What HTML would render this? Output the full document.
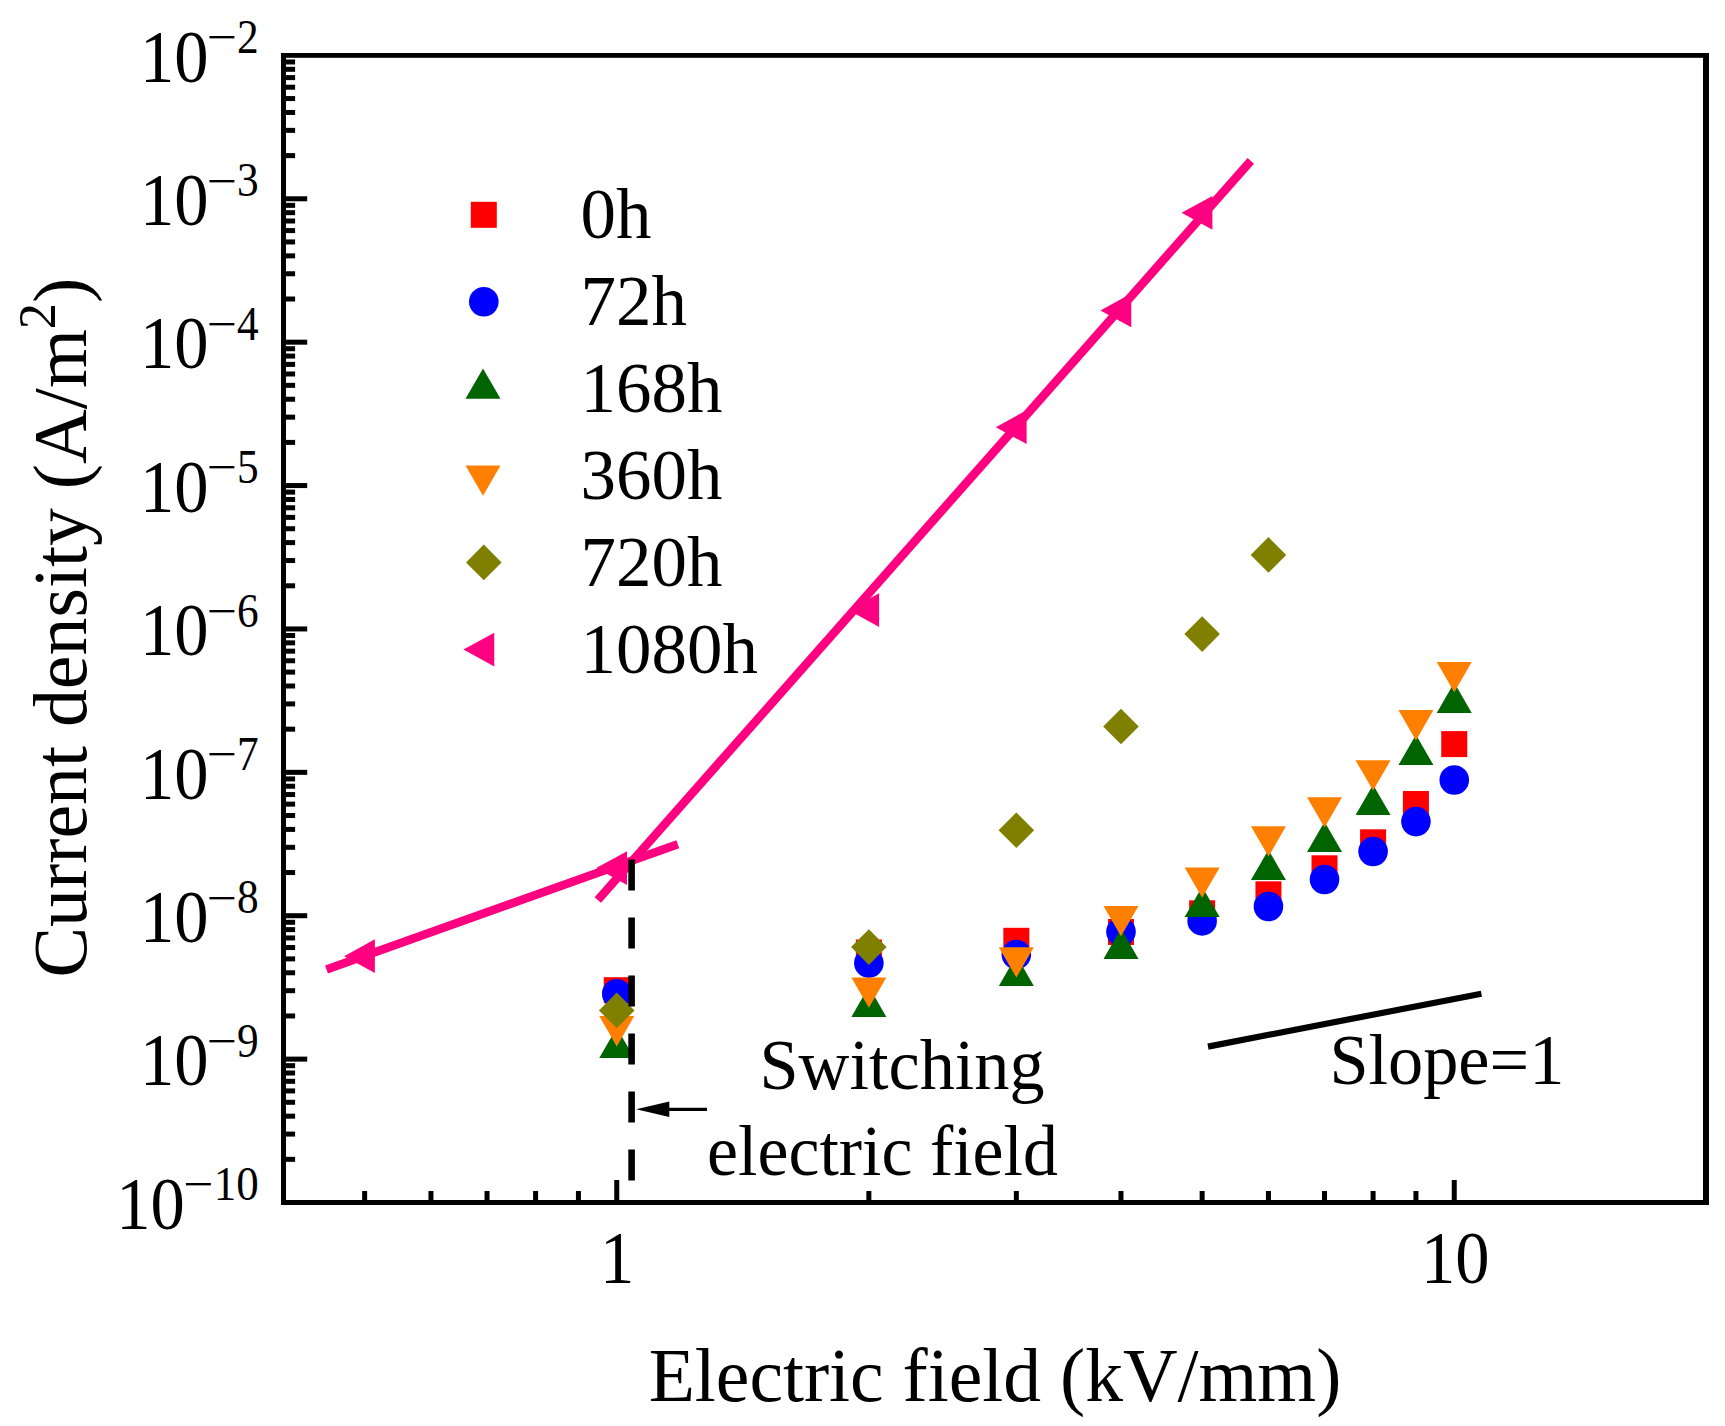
<!DOCTYPE html>
<html lang="en"><head><meta charset="utf-8">
<title>Current density vs electric field</title>
<style>
html,body{margin:0;padding:0;background:#fff;}
body{width:1725px;height:1426px;overflow:hidden;}
svg{display:block;}
text{font-family:"Liberation Serif", serif;fill:#000;}
</style></head><body>
<svg width="1725" height="1426" viewBox="0 0 1725 1426">
<rect x="0" y="0" width="1725" height="1426" fill="#fff"/>
<g fill="#000">
<rect x="285.00" y="1156.84" width="10.10" height="5.00"/>
<rect x="285.00" y="1131.59" width="10.10" height="5.00"/>
<rect x="285.00" y="1113.67" width="10.10" height="5.00"/>
<rect x="285.00" y="1099.78" width="10.10" height="5.00"/>
<rect x="285.00" y="1088.42" width="10.10" height="5.00"/>
<rect x="285.00" y="1078.82" width="10.10" height="5.00"/>
<rect x="285.00" y="1070.51" width="10.10" height="5.00"/>
<rect x="285.00" y="1063.17" width="10.10" height="5.00"/>
<rect x="285.00" y="1056.61" width="22.20" height="5.00"/>
<rect x="285.00" y="1013.45" width="10.10" height="5.00"/>
<rect x="285.00" y="988.20" width="10.10" height="5.00"/>
<rect x="285.00" y="970.28" width="10.10" height="5.00"/>
<rect x="285.00" y="956.39" width="10.10" height="5.00"/>
<rect x="285.00" y="945.04" width="10.10" height="5.00"/>
<rect x="285.00" y="935.44" width="10.10" height="5.00"/>
<rect x="285.00" y="927.12" width="10.10" height="5.00"/>
<rect x="285.00" y="919.79" width="10.10" height="5.00"/>
<rect x="285.00" y="913.22" width="22.20" height="5.00"/>
<rect x="285.00" y="870.06" width="10.10" height="5.00"/>
<rect x="285.00" y="844.81" width="10.10" height="5.00"/>
<rect x="285.00" y="826.90" width="10.10" height="5.00"/>
<rect x="285.00" y="813.00" width="10.10" height="5.00"/>
<rect x="285.00" y="801.65" width="10.10" height="5.00"/>
<rect x="285.00" y="792.05" width="10.10" height="5.00"/>
<rect x="285.00" y="783.73" width="10.10" height="5.00"/>
<rect x="285.00" y="776.40" width="10.10" height="5.00"/>
<rect x="285.00" y="769.84" width="22.20" height="5.00"/>
<rect x="285.00" y="726.67" width="10.10" height="5.00"/>
<rect x="285.00" y="701.42" width="10.10" height="5.00"/>
<rect x="285.00" y="683.51" width="10.10" height="5.00"/>
<rect x="285.00" y="669.61" width="10.10" height="5.00"/>
<rect x="285.00" y="658.26" width="10.10" height="5.00"/>
<rect x="285.00" y="648.66" width="10.10" height="5.00"/>
<rect x="285.00" y="640.35" width="10.10" height="5.00"/>
<rect x="285.00" y="633.01" width="10.10" height="5.00"/>
<rect x="285.00" y="626.45" width="22.20" height="5.00"/>
<rect x="285.00" y="583.29" width="10.10" height="5.00"/>
<rect x="285.00" y="558.04" width="10.10" height="5.00"/>
<rect x="285.00" y="540.12" width="10.10" height="5.00"/>
<rect x="285.00" y="526.23" width="10.10" height="5.00"/>
<rect x="285.00" y="514.87" width="10.10" height="5.00"/>
<rect x="285.00" y="505.27" width="10.10" height="5.00"/>
<rect x="285.00" y="496.96" width="10.10" height="5.00"/>
<rect x="285.00" y="489.62" width="10.10" height="5.00"/>
<rect x="285.00" y="483.06" width="22.20" height="5.00"/>
<rect x="285.00" y="439.90" width="10.10" height="5.00"/>
<rect x="285.00" y="414.65" width="10.10" height="5.00"/>
<rect x="285.00" y="396.73" width="10.10" height="5.00"/>
<rect x="285.00" y="382.84" width="10.10" height="5.00"/>
<rect x="285.00" y="371.49" width="10.10" height="5.00"/>
<rect x="285.00" y="361.89" width="10.10" height="5.00"/>
<rect x="285.00" y="353.57" width="10.10" height="5.00"/>
<rect x="285.00" y="346.24" width="10.10" height="5.00"/>
<rect x="285.00" y="339.67" width="22.20" height="5.00"/>
<rect x="285.00" y="296.51" width="10.10" height="5.00"/>
<rect x="285.00" y="271.26" width="10.10" height="5.00"/>
<rect x="285.00" y="253.35" width="10.10" height="5.00"/>
<rect x="285.00" y="239.45" width="10.10" height="5.00"/>
<rect x="285.00" y="228.10" width="10.10" height="5.00"/>
<rect x="285.00" y="218.50" width="10.10" height="5.00"/>
<rect x="285.00" y="210.18" width="10.10" height="5.00"/>
<rect x="285.00" y="202.85" width="10.10" height="5.00"/>
<rect x="285.00" y="196.29" width="22.20" height="5.00"/>
<rect x="285.00" y="153.12" width="10.10" height="5.00"/>
<rect x="285.00" y="127.87" width="10.10" height="5.00"/>
<rect x="285.00" y="109.96" width="10.10" height="5.00"/>
<rect x="285.00" y="96.06" width="10.10" height="5.00"/>
<rect x="285.00" y="84.71" width="10.10" height="5.00"/>
<rect x="285.00" y="75.11" width="10.10" height="5.00"/>
<rect x="285.00" y="66.80" width="10.10" height="5.00"/>
<rect x="285.00" y="59.46" width="10.10" height="5.00"/>
<rect x="614.25" y="1180.00" width="5.00" height="21.00"/>
<rect x="1451.75" y="1180.00" width="5.00" height="21.00"/>
<rect x="362.14" y="1191.00" width="5.00" height="10.00"/>
<rect x="428.45" y="1191.00" width="5.00" height="10.00"/>
<rect x="484.52" y="1191.00" width="5.00" height="10.00"/>
<rect x="533.09" y="1191.00" width="5.00" height="10.00"/>
<rect x="575.93" y="1191.00" width="5.00" height="10.00"/>
<rect x="866.36" y="1191.00" width="5.00" height="10.00"/>
<rect x="1013.84" y="1191.00" width="5.00" height="10.00"/>
<rect x="1118.48" y="1191.00" width="5.00" height="10.00"/>
<rect x="1199.64" y="1191.00" width="5.00" height="10.00"/>
<rect x="1265.95" y="1191.00" width="5.00" height="10.00"/>
<rect x="1322.02" y="1191.00" width="5.00" height="10.00"/>
<rect x="1370.59" y="1191.00" width="5.00" height="10.00"/>
<rect x="1413.43" y="1191.00" width="5.00" height="10.00"/>
<rect x="281.00" y="53.00" width="5.00" height="1152.00"/>
<rect x="1703.00" y="53.00" width="6.00" height="1152.00"/>
<rect x="281.00" y="53.00" width="1428.00" height="4.80"/>
<rect x="281.00" y="1200.00" width="1428.00" height="5.00"/>
</g>
<text transform="translate(184.80 1228.80) scale(0.9350 1.0000)" font-size="73.3" text-anchor="end">10</text>
<text transform="translate(183.40 1200.40) scale(1.1260 1.0000)" font-size="47.6" text-anchor="start">−</text>
<text transform="translate(258.70 1200.10) scale(0.9464 1.0000)" font-size="47.6" text-anchor="end">10</text>
<text transform="translate(208.50 1085.41) scale(0.9350 1.0000)" font-size="73.3" text-anchor="end">10</text>
<text transform="translate(207.10 1057.01) scale(1.1260 1.0000)" font-size="47.6" text-anchor="start">−</text>
<text transform="translate(258.70 1056.71) scale(0.9100 1.0000)" font-size="47.6" text-anchor="end">9</text>
<text transform="translate(208.50 942.02) scale(0.9350 1.0000)" font-size="73.3" text-anchor="end">10</text>
<text transform="translate(207.10 913.62) scale(1.1260 1.0000)" font-size="47.6" text-anchor="start">−</text>
<text transform="translate(258.70 913.32) scale(0.9100 1.0000)" font-size="47.6" text-anchor="end">8</text>
<text transform="translate(208.50 798.64) scale(0.9350 1.0000)" font-size="73.3" text-anchor="end">10</text>
<text transform="translate(207.10 770.24) scale(1.1260 1.0000)" font-size="47.6" text-anchor="start">−</text>
<text transform="translate(258.70 769.94) scale(0.9100 1.0000)" font-size="47.6" text-anchor="end">7</text>
<text transform="translate(208.50 655.25) scale(0.9350 1.0000)" font-size="73.3" text-anchor="end">10</text>
<text transform="translate(207.10 626.85) scale(1.1260 1.0000)" font-size="47.6" text-anchor="start">−</text>
<text transform="translate(258.70 626.55) scale(0.9100 1.0000)" font-size="47.6" text-anchor="end">6</text>
<text transform="translate(208.50 511.86) scale(0.9350 1.0000)" font-size="73.3" text-anchor="end">10</text>
<text transform="translate(207.10 483.46) scale(1.1260 1.0000)" font-size="47.6" text-anchor="start">−</text>
<text transform="translate(258.70 483.16) scale(0.9100 1.0000)" font-size="47.6" text-anchor="end">5</text>
<text transform="translate(208.50 368.47) scale(0.9350 1.0000)" font-size="73.3" text-anchor="end">10</text>
<text transform="translate(207.10 340.07) scale(1.1260 1.0000)" font-size="47.6" text-anchor="start">−</text>
<text transform="translate(258.70 339.77) scale(0.9100 1.0000)" font-size="47.6" text-anchor="end">4</text>
<text transform="translate(208.50 225.09) scale(0.9350 1.0000)" font-size="73.3" text-anchor="end">10</text>
<text transform="translate(207.10 196.69) scale(1.1260 1.0000)" font-size="47.6" text-anchor="start">−</text>
<text transform="translate(258.70 196.39) scale(0.9100 1.0000)" font-size="47.6" text-anchor="end">3</text>
<text transform="translate(208.50 81.70) scale(0.9350 1.0000)" font-size="73.3" text-anchor="end">10</text>
<text transform="translate(207.10 53.30) scale(1.1260 1.0000)" font-size="47.6" text-anchor="start">−</text>
<text transform="translate(258.70 53.00) scale(0.9100 1.0000)" font-size="47.6" text-anchor="end">2</text>
<text transform="translate(617.05 1282.60) scale(0.9350 1.0000)" font-size="73.3" text-anchor="middle">1</text>
<text transform="translate(1455.15 1282.60) scale(0.9350 1.0000)" font-size="73.3" text-anchor="middle">10</text>
<text x="995.0" y="1401.3" font-size="75.6" text-anchor="middle">Electric field (kV/mm)</text>
<text transform="translate(86.0,627.6) rotate(-90)" font-size="75.8" text-anchor="middle">Current density (A/m<tspan font-size="52.5" dy="-31.5">2</tspan><tspan dy="31.5">)</tspan></text>
<g>
<rect x="603.75" y="977.20" width="26.00" height="26.00" fill="#ff0000"/>
<rect x="855.86" y="939.50" width="26.00" height="26.00" fill="#ff0000"/>
<rect x="1003.34" y="927.80" width="26.00" height="26.00" fill="#ff0000"/>
<rect x="1107.98" y="919.00" width="26.00" height="26.00" fill="#ff0000"/>
<rect x="1189.14" y="900.30" width="26.00" height="26.00" fill="#ff0000"/>
<rect x="1255.45" y="881.30" width="26.00" height="26.00" fill="#ff0000"/>
<rect x="1311.52" y="855.30" width="26.00" height="26.00" fill="#ff0000"/>
<rect x="1360.09" y="829.30" width="26.00" height="26.00" fill="#ff0000"/>
<rect x="1402.93" y="791.00" width="26.00" height="26.00" fill="#ff0000"/>
<rect x="1441.25" y="731.10" width="26.00" height="26.00" fill="#ff0000"/>
<circle cx="616.75" cy="993.80" r="14.80" fill="#0000ff"/>
<circle cx="868.86" cy="963.10" r="14.80" fill="#0000ff"/>
<circle cx="1016.34" cy="954.60" r="14.80" fill="#0000ff"/>
<circle cx="1120.98" cy="931.80" r="14.80" fill="#0000ff"/>
<circle cx="1202.14" cy="920.90" r="14.80" fill="#0000ff"/>
<circle cx="1268.45" cy="906.50" r="14.80" fill="#0000ff"/>
<circle cx="1324.52" cy="879.50" r="14.80" fill="#0000ff"/>
<circle cx="1373.09" cy="851.50" r="14.80" fill="#0000ff"/>
<circle cx="1415.93" cy="821.60" r="14.80" fill="#0000ff"/>
<circle cx="1454.25" cy="780.00" r="14.80" fill="#0000ff"/>
<polygon points="616.75,1027.79 634.25,1058.10 599.25,1058.10" fill="#006400"/>
<polygon points="868.86,986.59 886.36,1016.90 851.36,1016.90" fill="#006400"/>
<polygon points="1016.34,955.59 1033.84,985.90 998.84,985.90" fill="#006400"/>
<polygon points="1120.98,928.59 1138.48,958.90 1103.48,958.90" fill="#006400"/>
<polygon points="1202.14,886.79 1219.64,917.10 1184.64,917.10" fill="#006400"/>
<polygon points="1268.45,849.79 1285.95,880.10 1250.95,880.10" fill="#006400"/>
<polygon points="1324.52,821.79 1342.02,852.10 1307.02,852.10" fill="#006400"/>
<polygon points="1373.09,784.79 1390.59,815.10 1355.59,815.10" fill="#006400"/>
<polygon points="1415.93,734.79 1433.43,765.10 1398.43,765.10" fill="#006400"/>
<polygon points="1454.25,682.59 1471.75,712.90 1436.75,712.90" fill="#006400"/>
<polygon points="616.75,1046.41 634.25,1016.10 599.25,1016.10" fill="#ff8000"/>
<polygon points="868.86,1007.71 886.36,977.40 851.36,977.40" fill="#ff8000"/>
<polygon points="1016.34,977.61 1033.84,947.30 998.84,947.30" fill="#ff8000"/>
<polygon points="1120.98,936.31 1138.48,906.00 1103.48,906.00" fill="#ff8000"/>
<polygon points="1202.14,897.71 1219.64,867.40 1184.64,867.40" fill="#ff8000"/>
<polygon points="1268.45,856.61 1285.95,826.30 1250.95,826.30" fill="#ff8000"/>
<polygon points="1324.52,827.61 1342.02,797.30 1307.02,797.30" fill="#ff8000"/>
<polygon points="1373.09,790.61 1390.59,760.30 1355.59,760.30" fill="#ff8000"/>
<polygon points="1415.93,740.41 1433.43,710.10 1398.43,710.10" fill="#ff8000"/>
<polygon points="1454.25,692.21 1471.75,661.90 1436.75,661.90" fill="#ff8000"/>
<polygon points="616.75,992.60 634.55,1010.40 616.75,1028.20 598.95,1010.40" fill="#808000"/>
<polygon points="868.86,929.30 886.66,947.10 868.86,964.90 851.06,947.10" fill="#808000"/>
<polygon points="1016.34,812.40 1034.14,830.20 1016.34,848.00 998.54,830.20" fill="#808000"/>
<polygon points="1120.98,708.70 1138.78,726.50 1120.98,744.30 1103.18,726.50" fill="#808000"/>
<polygon points="1202.14,616.30 1219.94,634.10 1202.14,651.90 1184.34,634.10" fill="#808000"/>
<polygon points="1268.45,537.10 1286.25,554.90 1268.45,572.70 1250.65,554.90" fill="#808000"/>
</g>
<line x1="326.5" y1="969.5" x2="677.8" y2="844.2" stroke="#ff0080" stroke-width="8.6"/>
<line x1="597.8" y1="900.0" x2="1250.8" y2="160.9" stroke="#ff0080" stroke-width="8.6"/>
<polygon points="344.10,956.20 374.90,939.30 374.90,973.10" fill="#ff0080"/>
<polygon points="596.22,868.10 627.02,851.20 627.02,885.00" fill="#ff0080"/>
<polygon points="848.33,610.10 879.13,593.20 879.13,627.00" fill="#ff0080"/>
<polygon points="995.81,427.20 1026.61,410.30 1026.61,444.10" fill="#ff0080"/>
<polygon points="1100.44,310.40 1131.24,293.50 1131.24,327.30" fill="#ff0080"/>
<polygon points="1181.60,212.80 1212.40,195.90 1212.40,229.70" fill="#ff0080"/>
<line x1="631.6" y1="859.5" x2="631.6" y2="1200" stroke="#000" stroke-width="6.6" stroke-dasharray="31 27"/>
<line x1="655" y1="1109.3" x2="707" y2="1109.3" stroke="#000" stroke-width="3.3"/>
<polygon points="636.2,1109.3 669.3,1101.6 669.3,1117.0" fill="#000"/>
<line x1="1208" y1="1046.6" x2="1481.4" y2="993.7" stroke="#000" stroke-width="6.2"/>
<text transform="translate(1329.40 1083.70) scale(0.9660 1.0000)" font-size="72.8" text-anchor="start">Slope=1</text>
<text transform="translate(759.50 1088.80) scale(0.9660 1.0000)" font-size="72.8" text-anchor="start">Switching</text>
<text transform="translate(707.00 1175.30) scale(0.9592 1.0000)" font-size="72.8" text-anchor="start">electric field</text>
<rect x="470.80" y="201.80" width="26.00" height="26.00" fill="#ff0000"/>
<text transform="translate(580.60 237.80) scale(0.9850 1.0000)" font-size="72.0" text-anchor="start">0h</text>
<circle cx="483.80" cy="301.70" r="14.80" fill="#0000ff"/>
<text transform="translate(580.60 324.90) scale(0.9850 1.0000)" font-size="72.0" text-anchor="start">72h</text>
<polygon points="483.00,368.39 500.50,398.70 465.50,398.70" fill="#006400"/>
<text transform="translate(580.60 412.00) scale(0.9850 1.0000)" font-size="72.0" text-anchor="start">168h</text>
<polygon points="483.00,495.71 500.50,465.40 465.50,465.40" fill="#ff8000"/>
<text transform="translate(580.60 499.10) scale(0.9850 1.0000)" font-size="72.0" text-anchor="start">360h</text>
<polygon points="483.80,544.60 501.60,562.40 483.80,580.20 466.00,562.40" fill="#808000"/>
<text transform="translate(580.60 586.20) scale(0.9850 1.0000)" font-size="72.0" text-anchor="start">720h</text>
<polygon points="463.47,649.60 494.27,632.70 494.27,666.50" fill="#ff0080"/>
<text transform="translate(580.60 673.30) scale(0.9850 1.0000)" font-size="72.0" text-anchor="start">1080h</text>
</svg>
</body></html>
